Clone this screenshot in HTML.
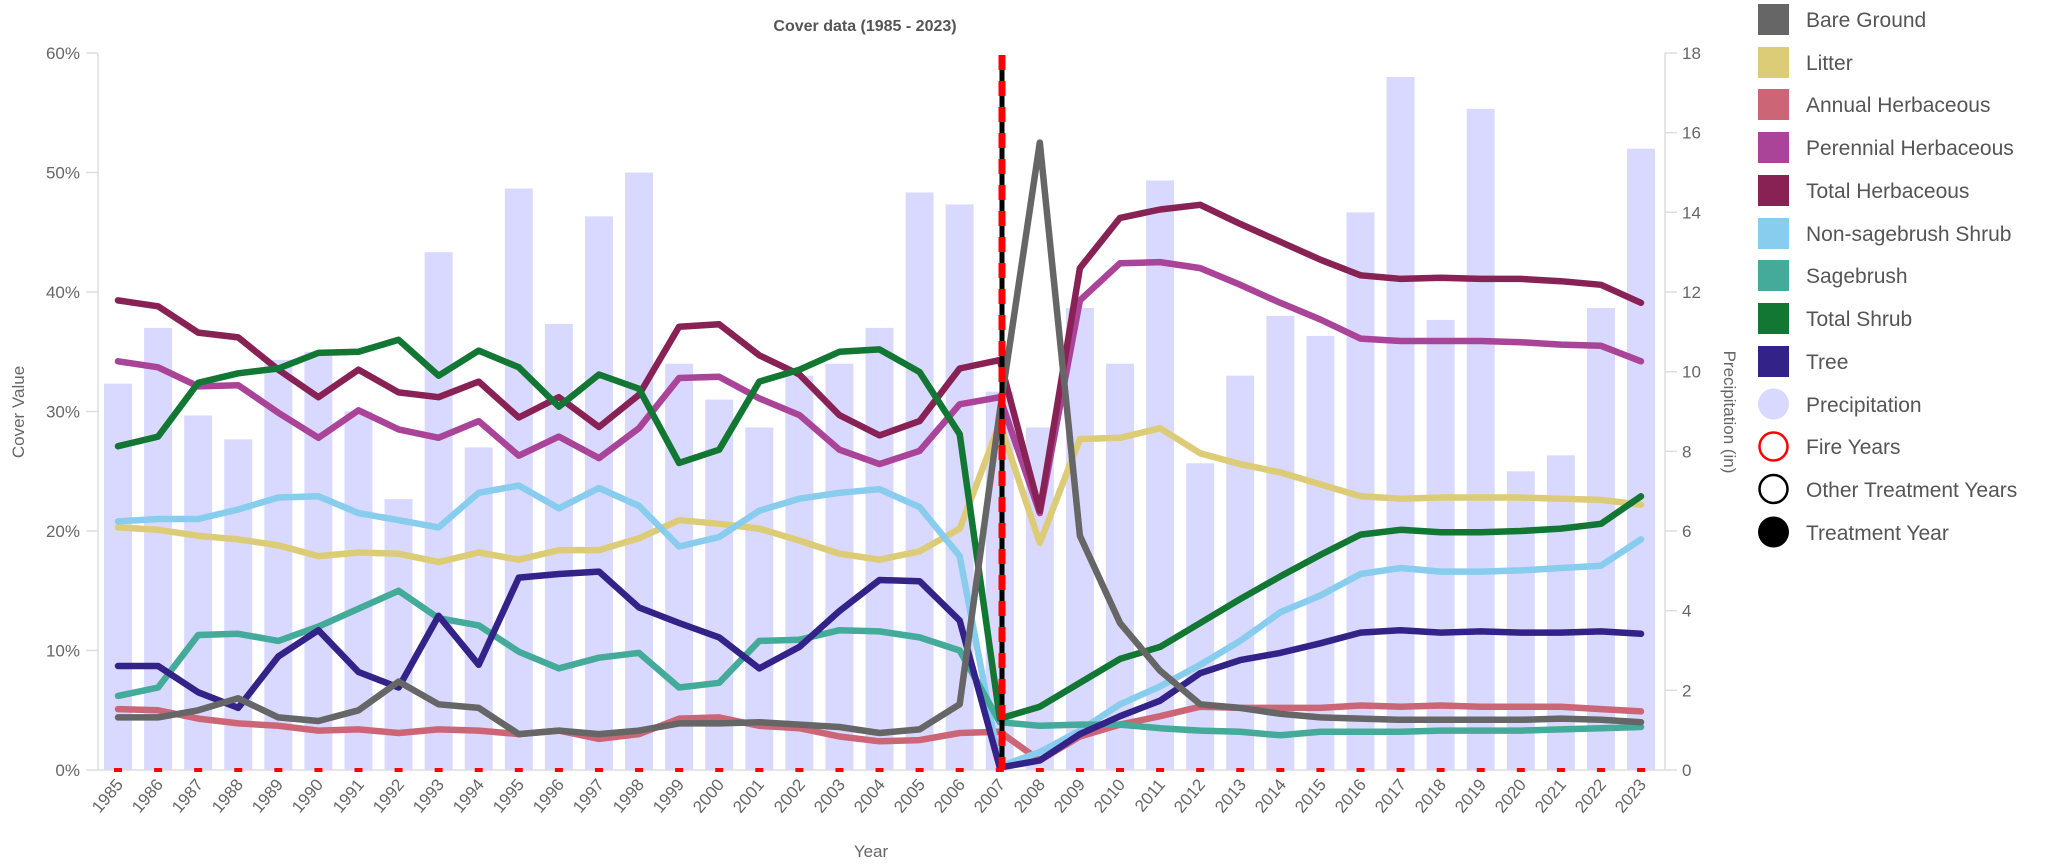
<!DOCTYPE html>
<html><head><meta charset="utf-8"><style>
html,body{margin:0;padding:0;background:#fff;}
svg{display:block;font-family:"Liberation Sans",Arial,sans-serif;}
.ax{fill:#666;font-size:17px;}
.lg{fill:#555;font-size:21px;}
</style></head><body>
<svg id="s" width="2068" height="866" viewBox="0 0 2068 866">
<text x="865" y="31" text-anchor="middle" font-weight="bold" font-size="16" fill="#555">Cover data (1985 - 2023)</text>
<g id="bars"></g>
<g stroke="#ddd" stroke-width="1.5" fill="none">
<line x1="98" y1="53" x2="98" y2="770"/><line x1="1665" y1="53" x2="1665" y2="770"/><line x1="86" y1="770" x2="1677" y2="770"/>
<line x1="86" y1="53" x2="98" y2="53"/><line x1="86" y1="172.5" x2="98" y2="172.5"/><line x1="86" y1="292" x2="98" y2="292"/><line x1="86" y1="411.5" x2="98" y2="411.5"/><line x1="86" y1="531" x2="98" y2="531"/><line x1="86" y1="650.5" x2="98" y2="650.5"/>
<line x1="1665" y1="53" x2="1677" y2="53"/><line x1="1665" y1="132.7" x2="1677" y2="132.7"/><line x1="1665" y1="212.3" x2="1677" y2="212.3"/><line x1="1665" y1="292" x2="1677" y2="292"/><line x1="1665" y1="371.7" x2="1677" y2="371.7"/><line x1="1665" y1="451.3" x2="1677" y2="451.3"/><line x1="1665" y1="531" x2="1677" y2="531"/><line x1="1665" y1="610.7" x2="1677" y2="610.7"/><line x1="1665" y1="690.3" x2="1677" y2="690.3"/>
</g>
<g class="ax" text-anchor="end">
<text x="80" y="59">60%</text><text x="80" y="178.5">50%</text><text x="80" y="298">40%</text><text x="80" y="417.5">30%</text><text x="80" y="537">20%</text><text x="80" y="656.5">10%</text><text x="80" y="776">0%</text>
</g>
<g class="ax">
<text x="1682" y="59">18</text><text x="1682" y="138.7">16</text><text x="1682" y="218.3">14</text><text x="1682" y="298">12</text><text x="1682" y="377.7">10</text><text x="1682" y="457.3">8</text><text x="1682" y="537">6</text><text x="1682" y="616.7">4</text><text x="1682" y="696.3">2</text><text x="1682" y="776">0</text>
</g>
<text class="ax" transform="translate(24,412) rotate(-90)" text-anchor="middle" font-size="16">Cover Value</text>
<text class="ax" transform="translate(1724,412) rotate(90)" text-anchor="middle" font-size="16">Precipitation (in)</text>
<text class="ax" x="871" y="857" text-anchor="middle" font-size="16">Year</text>
<g class="ax" text-anchor="end" id="yl">
<text transform="translate(124,785) rotate(-50)">1985</text>
<text transform="translate(164,785) rotate(-50)">1986</text>
<text transform="translate(204,785) rotate(-50)">1987</text>
<text transform="translate(244,785) rotate(-50)">1988</text>
<text transform="translate(284,785) rotate(-50)">1989</text>
<text transform="translate(324,785) rotate(-50)">1990</text>
<text transform="translate(365,785) rotate(-50)">1991</text>
<text transform="translate(405,785) rotate(-50)">1992</text>
<text transform="translate(445,785) rotate(-50)">1993</text>
<text transform="translate(485,785) rotate(-50)">1994</text>
<text transform="translate(525,785) rotate(-50)">1995</text>
<text transform="translate(565,785) rotate(-50)">1996</text>
<text transform="translate(605,785) rotate(-50)">1997</text>
<text transform="translate(645,785) rotate(-50)">1998</text>
<text transform="translate(685,785) rotate(-50)">1999</text>
<text transform="translate(725,785) rotate(-50)">2000</text>
<text transform="translate(765,785) rotate(-50)">2001</text>
<text transform="translate(806,785) rotate(-50)">2002</text>
<text transform="translate(846,785) rotate(-50)">2003</text>
<text transform="translate(886,785) rotate(-50)">2004</text>
<text transform="translate(926,785) rotate(-50)">2005</text>
<text transform="translate(966,785) rotate(-50)">2006</text>
<text transform="translate(1006,785) rotate(-50)">2007</text>
<text transform="translate(1046,785) rotate(-50)">2008</text>
<text transform="translate(1086,785) rotate(-50)">2009</text>
<text transform="translate(1126,785) rotate(-50)">2010</text>
<text transform="translate(1166,785) rotate(-50)">2011</text>
<text transform="translate(1206,785) rotate(-50)">2012</text>
<text transform="translate(1247,785) rotate(-50)">2013</text>
<text transform="translate(1287,785) rotate(-50)">2014</text>
<text transform="translate(1327,785) rotate(-50)">2015</text>
<text transform="translate(1367,785) rotate(-50)">2016</text>
<text transform="translate(1407,785) rotate(-50)">2017</text>
<text transform="translate(1447,785) rotate(-50)">2018</text>
<text transform="translate(1487,785) rotate(-50)">2019</text>
<text transform="translate(1527,785) rotate(-50)">2020</text>
<text transform="translate(1567,785) rotate(-50)">2021</text>
<text transform="translate(1607,785) rotate(-50)">2022</text>
<text transform="translate(1647,785) rotate(-50)">2023</text>
</g>
<g id="lines" fill="none" stroke-width="6.5" stroke-linejoin="round" stroke-linecap="round"></g>
<g id="fire"></g>
<line x1="1002" y1="55" x2="1002" y2="770" stroke="#000" stroke-width="5"/>
<line x1="1002" y1="55" x2="1002" y2="770" stroke="#f00" stroke-width="7" stroke-dasharray="15,11"/>
<g>
<rect x="1758" y="4" width="31" height="31" fill="#666"/>
<rect x="1758" y="47" width="31" height="31" fill="#ddcc77"/>
<rect x="1758" y="89" width="31" height="31" fill="#cc6677"/>
<rect x="1758" y="132" width="31" height="31" fill="#aa4499"/>
<rect x="1758" y="175" width="31" height="31" fill="#882255"/>
<rect x="1758" y="218" width="31" height="31" fill="#88ccee"/>
<rect x="1758" y="260" width="31" height="31" fill="#44aa99"/>
<rect x="1758" y="303" width="31" height="31" fill="#117733"/>
<rect x="1758" y="346" width="31" height="31" fill="#332288"/>
<circle cx="1773.5" cy="404" r="15.5" fill="#d9d9ff"/>
<circle cx="1773.5" cy="446.5" r="14" fill="#fff" stroke="#f00" stroke-width="2.5"/>
<circle cx="1773.5" cy="489" r="14" fill="#fff" stroke="#000" stroke-width="2.5"/>
<circle cx="1773.5" cy="532" r="15.5" fill="#000"/>
</g>
<g class="lg">
<text x="1806" y="27">Bare Ground</text>
<text x="1806" y="70">Litter</text>
<text x="1806" y="112">Annual Herbaceous</text>
<text x="1806" y="155">Perennial Herbaceous</text>
<text x="1806" y="198">Total Herbaceous</text>
<text x="1806" y="241">Non-sagebrush Shrub</text>
<text x="1806" y="283">Sagebrush</text>
<text x="1806" y="326">Total Shrub</text>
<text x="1806" y="369">Tree</text>
<text x="1806" y="412">Precipitation</text>
<text x="1806" y="454">Fire Years</text>
<text x="1806" y="497">Other Treatment Years</text>
<text x="1806" y="540">Treatment Year</text>
</g>
</svg>
<script>
var NS="http://www.w3.org/2000/svg";
function X(i){return 118+i*40.08;}
function Y(v){return 770-v*11.95;}
var pr=[9.7,11.1,8.9,8.3,10.3,10.5,9.0,6.8,13.0,8.1,14.6,11.2,13.9,15.0,10.2,9.3,8.6,9.9,10.2,11.1,14.5,14.2,9.5,8.6,11.6,10.2,14.8,7.7,9.9,11.4,10.9,14.0,17.4,11.3,16.6,7.5,7.9,11.6,15.6];
var b=document.getElementById('bars'),f=document.getElementById('fire');
pr.forEach(function(p,i){var r=document.createElementNS(NS,'rect');var h=p*39.83;
r.setAttribute('x',X(i)-14);r.setAttribute('y',770-h);r.setAttribute('width',28);r.setAttribute('height',h);r.setAttribute('fill','#d9d9ff');b.appendChild(r);
var q=document.createElementNS(NS,'rect');q.setAttribute('x',X(i)-4);q.setAttribute('y',768);q.setAttribute('width',8);q.setAttribute('height',4);q.setAttribute('fill','#f00');f.appendChild(q);});
var S=[
["#ddcc77",[20.3,20.1,19.6,19.3,18.8,17.9,18.2,18.1,17.4,18.2,17.6,18.4,18.4,19.4,20.9,20.6,20.2,19.2,18.1,17.6,18.3,20.2,29.0,19.0,27.7,27.8,28.6,26.5,25.6,24.9,23.9,22.9,22.7,22.8,22.8,22.8,22.7,22.6,22.2]],
["#cc6677",[5.1,5.0,4.3,3.9,3.7,3.3,3.4,3.1,3.4,3.3,3.0,3.3,2.6,3.0,4.3,4.4,3.7,3.5,2.8,2.4,2.5,3.1,3.2,0.8,2.8,3.8,4.5,5.3,5.2,5.2,5.2,5.4,5.3,5.4,5.3,5.3,5.3,5.1,4.9]],
["#aa4499",[34.2,33.7,32.1,32.2,29.9,27.8,30.1,28.5,27.8,29.2,26.3,27.9,26.1,28.6,32.8,32.9,31.1,29.7,26.8,25.6,26.7,30.6,31.2,21.5,39.3,42.4,42.5,42.0,40.6,39.1,37.7,36.1,35.9,35.9,35.9,35.8,35.6,35.5,34.2]],
["#882255",[39.3,38.8,36.6,36.2,33.5,31.2,33.5,31.6,31.2,32.5,29.5,31.2,28.7,31.4,37.1,37.3,34.7,33.1,29.7,28.0,29.2,33.6,34.3,21.7,42.0,46.2,46.9,47.3,45.7,44.2,42.7,41.4,41.1,41.2,41.1,41.1,40.9,40.6,39.1]],
["#88ccee",[20.8,21.0,21.0,21.8,22.8,22.9,21.5,20.9,20.3,23.2,23.8,21.9,23.6,22.1,18.7,19.5,21.7,22.7,23.2,23.5,22.0,17.9,0.3,1.5,3.3,5.5,7.0,8.8,10.8,13.2,14.6,16.4,16.9,16.6,16.6,16.7,16.9,17.1,19.3]],
["#44aa99",[6.2,6.9,11.3,11.4,10.8,12.0,13.5,15.0,12.7,12.1,9.9,8.5,9.4,9.8,6.9,7.3,10.8,10.9,11.7,11.6,11.1,10.0,4.0,3.7,3.8,3.8,3.5,3.3,3.2,2.9,3.2,3.2,3.2,3.3,3.3,3.3,3.4,3.5,3.6]],
["#117733",[27.1,27.9,32.4,33.2,33.6,34.9,35.0,36.0,33.0,35.1,33.7,30.4,33.1,31.9,25.7,26.8,32.5,33.5,35.0,35.2,33.3,28.1,4.3,5.3,7.3,9.3,10.3,12.3,14.3,16.2,18.0,19.7,20.1,19.9,19.9,20.0,20.2,20.6,22.9]],
["#332288",[8.7,8.7,6.5,5.2,9.5,11.7,8.2,6.9,12.9,8.8,16.1,16.4,16.6,13.6,12.3,11.1,8.5,10.3,13.3,15.9,15.8,12.5,0.2,0.8,3.0,4.5,5.8,8.1,9.2,9.8,10.6,11.5,11.7,11.5,11.6,11.5,11.5,11.6,11.4]],
["#666666",[4.4,4.4,5.0,6.0,4.4,4.1,5.0,7.4,5.5,5.2,3.0,3.3,3.0,3.3,3.9,3.9,4.0,3.8,3.6,3.1,3.4,5.5,30.0,52.5,19.6,12.3,8.3,5.5,5.2,4.7,4.4,4.3,4.2,4.2,4.2,4.2,4.3,4.2,4.0]]
];
var g=document.getElementById('lines');
S.forEach(function(s){var p=document.createElementNS(NS,'polyline');
p.setAttribute('points',s[1].map(function(v,i){return X(i).toFixed(1)+','+Y(v).toFixed(1);}).join(' '));
p.setAttribute('stroke',s[0]);g.appendChild(p);});
</script>
</body></html>
